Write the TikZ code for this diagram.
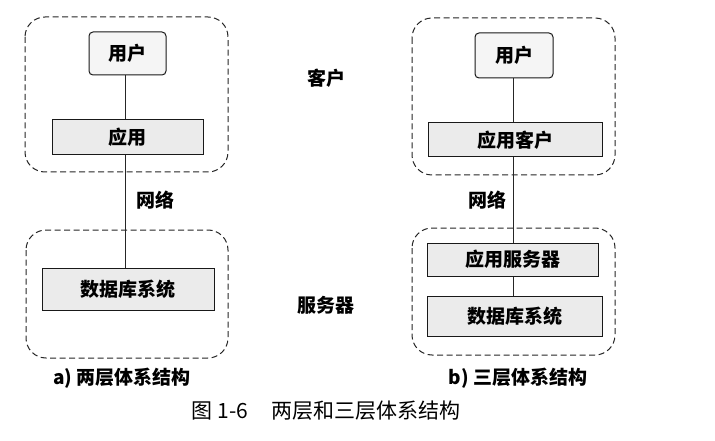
\documentclass[tikz,border=0pt]{standalone}
\usepackage{fontspec}
\newfontfamily\cjk{Noto Sans CJK SC}
\begin{document}
\begin{tikzpicture}[x=1pt,y=-1pt,
  grp/.style={draw=black!85,line width=1pt,dash pattern=on 6pt off 3.5pt,rounded corners=20pt},
  tbox/.style={draw=black!90,line width=1pt,fill=black!8,inner sep=0pt,font=\cjk\bfseries\fontsize{19}{21}\selectfont},
  ubox/.style={draw=black!90,line width=1pt,fill=black!4,rounded corners=4pt,inner sep=0pt,font=\cjk\bfseries\fontsize{19}{21}\selectfont},
  lbl/.style={font=\cjk\bfseries\fontsize{19}{21}\selectfont},
  captext/.style={font=\cjk\fontsize{21}{24}\selectfont},
  conn/.style={draw=black!85,line width=0.8pt}]
\useasboundingbox[fill=white] (0,0) rectangle (715,441);
% left
\draw[grp] (25,17) rectangle (228,172);
\draw[grp] (26,230) rectangle (228,358);
\node[ubox,minimum width=77pt,minimum height=43pt] (u1) at (127.5,53.5) {用户};
\node[tbox,minimum width=151pt,minimum height=35pt] (a1) at (127.5,137.5) {应用};
\node[tbox,minimum width=172pt,minimum height=42pt] (d1) at (128,289) {数据库系统};
\draw[conn] (u1.south -| 125,0) -- (a1.north -| 125,0);
\draw[conn] (a1.south -| 125,0) -- (d1.north -| 125,0);
\node[lbl] (n1) at (155,200) {网络};
\node[lbl] (cl) at (326,78) {客户};
\node[lbl] (sv) at (326,305) {服务器};
\node[lbl] (ta) at (122,378) {a) 两层体系结构};
% right
\draw[grp] (412,18) rectangle (615,175);
\draw[grp] (412,228) rectangle (615,355);
\node[ubox,minimum width=78pt,minimum height=45pt] (u2) at (514,55.5) {用户};
\node[tbox,minimum width=174pt,minimum height=34pt] (a2) at (515,140) {应用客户};
\node[tbox,minimum width=171pt,minimum height=33pt] (s2) at (512.5,259.5) {应用服务器};
\node[tbox,minimum width=175pt,minimum height=40pt] (d2) at (514.5,316) {数据库系统};
\draw[conn] (u2.south -| 513,0) -- (a2.north -| 513,0);
\draw[conn] (a2.south -| 513,0) -- (s2.north -| 513,0);
\draw[conn] (s2.south -| 513,0) -- (d2.north -| 513,0);
\node[lbl] (n2) at (487,200) {网络};
\node[lbl] (tb) at (518,378) {b) 三层体系结构};
% caption
\node[captext] (cp) at (326,411) {图 1-6\hspace{1.1em}两层和三层体系结构};
\end{tikzpicture}
\end{document}
